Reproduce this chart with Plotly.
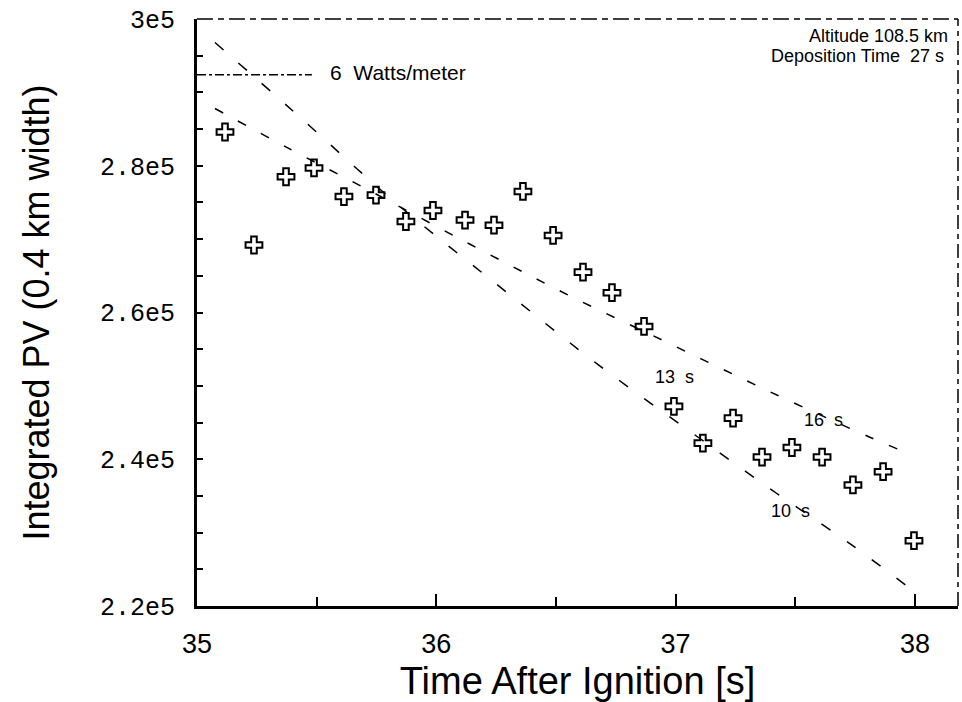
import plotly.graph_objects as go

# ---------------- data ----------------
time_s = [35.117, 35.238, 35.372, 35.489, 35.614, 35.748, 35.873, 35.986,
          36.120, 36.241, 36.362, 36.488, 36.613, 36.734, 36.868, 36.993,
          37.114, 37.240, 37.361, 37.486, 37.612, 37.741, 37.867, 37.996]
pv = [284600, 269200, 278500, 279700, 275800, 276000, 272400, 273900,
      272600, 271900, 276500, 270500, 265500, 262700, 258100, 247200,
      242200, 245600, 240300, 241600, 240300, 236500, 238300, 228900]

# curve labelled "10 s"
fit10_t = [35.075, 35.410, 35.832, 36.254, 36.672, 37.094, 37.420, 37.737, 37.971]
fit10_pv = [296800, 287200, 274900, 263800, 253000, 243000, 235400, 228300, 222600]

# curve labelled "16 s"
fit16_t = [35.075, 35.393, 35.710, 36.141, 36.550, 36.972, 37.394, 37.812, 37.950]
fit16_pv = [287800, 282200, 276800, 269300, 262400, 255800, 249200, 243000, 241100]

curve_labels = ["10\u00a0\u00a0s", "13\u00a0\u00a0s", "16\u00a0\u00a0s"]
curve_label_t = [37.482, 36.994, 37.616]
curve_label_pv = [233000, 251200, 245300]

xtick_vals = [35, 36, 37, 38]
xtick_text = ["35", "36", "37", "38"]
ytick_vals = [220000, 240000, 260000, 280000, 300000]
ytick_text = ["2.2e5", "2.4e5", "2.6e5", "2.8e5", "3e5"]

info_lines = ["Altitude 108.5 km", "Deposition Time\u00a0\u00a027 s"]
legend_label = "6\u00a0\u00a0Watts/meter"

# ---------------- figure ----------------
SANS = "Liberation Sans, Arial, sans-serif"
MONO = "Liberation Mono, DejaVu Sans Mono, monospace"

fig = go.Figure()

fig.add_trace(go.Scatter(
    x=fit10_t, y=fit10_pv, mode="lines", line_shape="spline",
    line=dict(color="black", width=1.5, dash="11px,20px"),
    hoverinfo="skip", showlegend=False))

fig.add_trace(go.Scatter(
    x=fit16_t, y=fit16_pv, mode="lines", line_shape="spline",
    line=dict(color="black", width=1.5, dash="9px,17px"),
    hoverinfo="skip", showlegend=False))

fig.add_trace(go.Scatter(
    x=time_s, y=pv, mode="markers",
    marker=dict(symbol="cross-open", size=14, color="black",
                line=dict(color="black", width=2)),
    showlegend=False))

for txt, tx, ty in zip(curve_labels, curve_label_t, curve_label_pv):
    fig.add_annotation(x=tx, y=ty, xref="x", yref="y", text=txt,
                       showarrow=False, font=dict(family=SANS, size=18, color="black"))

fig.add_annotation(x=0.9895, y=0.971, xref="paper", yref="paper", text=info_lines[0],
                   xanchor="right", yanchor="middle", showarrow=False,
                   font=dict(family=SANS, size=18, color="black"))
fig.add_annotation(x=0.984, y=0.9375, xref="paper", yref="paper", text=info_lines[1],
                   xanchor="right", yanchor="middle", showarrow=False,
                   font=dict(family=SANS, size=18, color="black"))

# legend-like sample line and its label
fig.add_shape(type="line", xref="paper", yref="paper", x0=0, x1=0.151, y0=0.905, y1=0.905,
              line=dict(color="black", width=1.5, dash="dashdot"))
fig.add_annotation(x=0.172, y=0.909, xref="paper", yref="paper", text=legend_label,
                   xanchor="left", yanchor="middle", showarrow=False,
                   font=dict(family=SANS, size=21, color="black"))

# top and right frame lines (broken/dashed in the scanned original)
fig.add_shape(type="line", xref="paper", yref="paper", x0=0, x1=1, y0=1, y1=1,
              line=dict(color="black", width=1.5, dash="16px,5px,6px,5px"))
fig.add_shape(type="line", xref="paper", yref="paper", x0=1, x1=1, y0=0, y1=1,
              line=dict(color="black", width=1.5, dash="14px,5px,5px,5px"))

fig.update_layout(
    width=962, height=702,
    margin=dict(l=197, r=4, t=19, b=91),
    plot_bgcolor="white", paper_bgcolor="white",
    showlegend=False,
    xaxis=dict(
        range=[35, 38.18], showline=True, linecolor="black", linewidth=2.5,
        showgrid=False, zeroline=False,
        tickmode="array", tickvals=xtick_vals, ticktext=xtick_text,
        ticks="inside", ticklen=12, tickwidth=1.5, tickcolor="black",
        minor=dict(dtick=0.5, tick0=35, ticks="inside", ticklen=9, tickwidth=1.5,
                   tickcolor="black", showgrid=False),
        tickfont=dict(family=SANS, size=27, color="black"),
        ticklabelstandoff=12,
        title=dict(text="Time After Ignition [s]", standoff=12,
                   font=dict(family=SANS, size=38, color="black")),
    ),
    yaxis=dict(
        range=[220000, 300000], showline=True, linecolor="black", linewidth=3,
        showgrid=False, zeroline=False,
        tickmode="array", tickvals=ytick_vals, ticktext=ytick_text,
        ticks="inside", ticklen=6, tickwidth=1.5, tickcolor="black",
        minor=dict(dtick=5000, tick0=220000, ticks="inside", ticklen=6, tickwidth=1.5,
                   tickcolor="black", showgrid=False),
        tickfont=dict(family=MONO, size=25, color="black"),
        ticklabelstandoff=14,
        title=dict(text="Integrated PV (0.4 km width)", standoff=40,
                   font=dict(family=SANS, size=36, color="black")),
    ),
)

fig.write_html("out.html")
